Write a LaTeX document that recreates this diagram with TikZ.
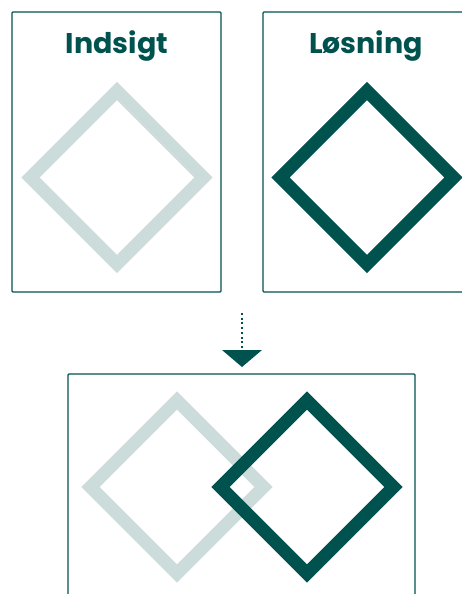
\documentclass[tikz,border=0pt]{standalone}
\usepackage{fontspec}
\setmainfont{Poppins}
\usepackage{tikz}
\usetikzlibrary{positioning}
\definecolor{deepteal}{HTML}{00524E}
\definecolor{paleteal}{HTML}{CCDCDB}
\tikzset{
  panel/.style={draw=deepteal,line width=1.4pt,rounded corners=1pt},
  rhomb/.style={line width=13pt,miter limit=10},
  heading/.style={anchor=base,text=deepteal,inner sep=0pt,font=\fontsize{28.5}{28.5}\selectfont\bfseries}
}
\begin{document}
\begin{tikzpicture}[x=1pt,y=-1pt,line join=miter]
\useasboundingbox (0,0) rectangle (462,594);
\draw[panel] (12,12) rectangle (221,292);
\draw[panel] (263,12) rectangle (480,292);
\draw[panel] (68,374) rectangle (415,620);
\node[heading] (insight) at (117,53) {Indsigt};
\node[heading] (solution) at (366,53) {Løsning};
\draw[rhomb,paleteal] (117,91) -- (203.5,177.5) -- (117,264) -- (30.5,177.5) -- cycle;
\draw[rhomb,deepteal] (367,91) -- (453.5,177.5) -- (367,264) -- (280.5,177.5) -- cycle;
\coordinate (from) at (241.5,313);
\coordinate (to) at (241.5,348);
\draw[deepteal,line width=2pt,dash pattern=on 2pt off 2.7pt] (from) -- (to);
\fill[deepteal] (222,350) -- (262,350) -- (242,367) -- cycle;
\draw[rhomb,paleteal] (177,400.5) -- (263.5,487) -- (177,573.5) -- (90.5,487) -- cycle;
\draw[rhomb,deepteal] (307,400.5) -- (393.5,487) -- (307,573.5) -- (220.5,487) -- cycle;
\end{tikzpicture}
\end{document}
